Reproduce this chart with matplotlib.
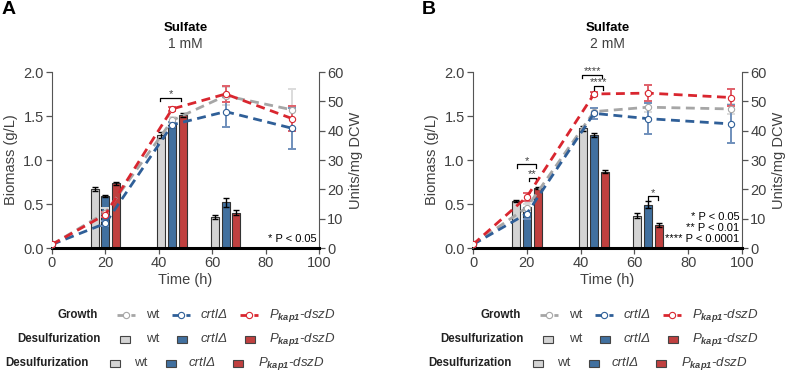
import numpy as np
import matplotlib.pyplot as plt
from matplotlib.lines import Line2D
from matplotlib.patches import Rectangle

plt.rcParams['font.family'] = ['Liberation Sans', 'DejaVu Sans']
plt.rcParams['mathtext.fontset'] = 'custom'
plt.rcParams['mathtext.it'] = 'Liberation Sans:italic'
plt.rcParams['mathtext.rm'] = 'Liberation Sans'
plt.rcParams['mathtext.bf'] = 'Liberation Sans:bold:italic'

# ---- data ----
strains = ['wt', 'crtIΔ', r'$P_{\mathbf{kap1}}$-$dszD$']
bar_times = [20, 45, 65]

# panel A, 1 mM sulfate
time_a = [0, 20, 45, 65, 90]
growth_a_wt = [0.04, 0.40, 1.45, 1.73, 1.57]
growth_a_wt_err = [0.01, 0.05, 0.04, 0.10, 0.24]
growth_a_crt = [0.04, 0.28, 1.40, 1.55, 1.36]
growth_a_crt_err = [0.01, 0.03, 0.03, 0.17, 0.23]
growth_a_kap = [0.04, 0.38, 1.58, 1.75, 1.47]
growth_a_kap_err = [0.01, 0.03, 0.02, 0.09, 0.14]
desulf_a_wt = [20.2, 38.5, 10.6]
desulf_a_wt_err = [0.7, 1.0, 0.8]
desulf_a_crt = [17.8, 42.2, 15.6]
desulf_a_crt_err = [0.3, 0.8, 1.5]
desulf_a_kap = [22.0, 45.3, 12.0]
desulf_a_kap_err = [0.5, 0.6, 0.9]

# panel B, 2 mM sulfate
time_b = [0, 20, 45, 65, 96]
growth_b_wt = [0.04, 0.46, 1.55, 1.60, 1.58]
growth_b_wt_err = [0.01, 0.04, 0.04, 0.05, 0.06]
growth_b_crt = [0.04, 0.39, 1.53, 1.47, 1.41]
growth_b_crt_err = [0.01, 0.06, 0.06, 0.18, 0.22]
growth_b_kap = [0.04, 0.58, 1.75, 1.76, 1.71]
growth_b_kap_err = [0.01, 0.05, 0.02, 0.09, 0.10]
desulf_b_wt = [16.1, 40.8, 11.0]
desulf_b_wt_err = [0.3, 0.8, 0.8]
desulf_b_crt = [14.0, 38.4, 14.8]
desulf_b_crt_err = [1.5, 0.7, 1.2]
desulf_b_kap = [20.4, 26.0, 7.8]
desulf_b_kap_err = [0.3, 0.5, 0.8]

# significance brackets: (x0, x1, y, label) in Units/mg DCW
sig_a = [(40.5, 48.5, 51.3, '*')]
sig_b = [(16.3, 23.5, 28.5, '*'), (20.8, 23.5, 24.0, '**'),
         (40.6, 48.0, 59.0, '****'), (45.1, 48.5, 55.2, '****'),
         (65.2, 68.9, 17.6, '*')]

bar_colors = ['#d4d4d4', '#41709f', '#c0403f']
line_colors = ['#a6a6a6', '#2f5f98', '#d9262f']
err_colors = ['#dcdcdc', '#6f8fbb', '#e0606a']
txt = '#404040'

W, H = 789, 373
fig = plt.figure(figsize=(W / 100, H / 100), dpi=100)


def fx(px):
    return px / W


def fy(py):
    return 1 - py / H


def panel(x0, x1, title2, letter, tline, growth, gerr, desulf, derr, sig, ptext):
    axb = fig.add_axes([fx(x0), fy(248), fx(x1 - x0), fy(72) - fy(248)])
    axl = axb.twinx()
    axb.yaxis.tick_right()
    axb.yaxis.set_label_position('right')
    axl.yaxis.tick_left()
    axl.yaxis.set_label_position('left')

    # bars on Units/mg DCW scale
    offs = [-4, 0, 4]
    for i in range(3):
        xs = [t + offs[i] for t in bar_times]
        axb.bar(xs, desulf[i], width=3.0, color=bar_colors[i], edgecolor='#333333',
                linewidth=0.8, zorder=2)
        axb.errorbar(xs, desulf[i], yerr=derr[i], fmt='none', ecolor='black',
                     elinewidth=1, capsize=2.5, capthick=1, zorder=3)
    axb.set_ylim(0, 60)
    axb.set_yticks(range(0, 61, 10))
    axb.set_xlim(0, 100)
    axb.set_xticks(range(0, 101, 20))
    axb.set_ylabel('Units/mg DCW', fontsize=10.5, color=txt, labelpad=4)
    axb.set_xlabel('Time (h)', fontsize=10.5, color=txt, labelpad=2)

    for (a, b, y, lab) in sig:
        axb.plot([a, a, b, b], [y - 1.2, y, y, y - 1.2], color='black', lw=0.9,
                 clip_on=False, zorder=4)
        axb.text((a + b) / 2, y - 0.5, lab, ha='center', va='bottom', fontsize=8,
                 color=txt, clip_on=False)

    # growth curves on Biomass scale
    for i in range(3):
        axl.errorbar(tline, growth[i], yerr=gerr[i], fmt='none', ecolor=err_colors[i],
                     elinewidth=1.4, capsize=3, capthick=1.4, zorder=2)
    for i in range(3):
        axl.plot(tline, growth[i], color=line_colors[i], lw=2, dashes=(3.2, 2.0),
                 marker='o', ms=4.5, mfc='white', mec=line_colors[i], mew=0.8, zorder=3)
    axl.set_ylim(0, 2.0)
    axl.set_yticks([0, 0.5, 1.0, 1.5, 2.0])
    axl.set_yticklabels(['0.0', '0.5', '1.0', '1.5', '2.0'])
    axl.set_ylabel('Biomass (g/L)', fontsize=10.5, color=txt, labelpad=4)

    for ax in (axb, axl):
        ax.spines['top'].set_visible(False)
        ax.tick_params(labelsize=10.5, labelcolor=txt, color='#555555', length=4,
                       width=0.9, pad=2)
    axl.spines['bottom'].set_visible(False)
    axl.spines['right'].set_visible(False)
    axb.spines['left'].set_visible(False)
    axl.spines['left'].set_color('#555555')
    axb.spines['right'].set_color('#555555')
    axb.spines['bottom'].set_linewidth(2.2)
    axb.spines['bottom'].set_color('black')

    # p-value notes
    for k, s in enumerate(ptext):
        axb.text(99, 1.5 + (len(ptext) - 1 - k) * 3.6, s, ha='right', va='bottom',
                 fontsize=8, color='black')

    xc = (x0 + x1) / 2
    fig.text(fx(xc), fy(28), 'Sulfate', ha='center', va='center', fontsize=9.5,
             fontweight='bold')
    fig.text(fx(xc), fy(44), title2, ha='center', va='center', fontsize=10, color=txt)
    fig.text(fx(x0 - 50 if letter == 'A' else x0 - 51), fy(10), letter, ha='left',
             va='center', fontsize=14, fontweight='bold')


def legend(dx):
    # row 1: growth
    y = 315
    fig.text(fx(98 + dx), fy(y), 'Growth', ha='right', va='center', fontsize=8.3,
             fontweight='bold', color='#222222')
    glyph = [(117, 135), (172, 190), (240, 258)]
    tx = [146, 201, 269]
    for i in range(3):
        a, b = glyph[i]
        fig.add_artist(Line2D([fx(a + dx), fx((a + b) / 2 + dx), fx(b + dx)],
                              [fy(y)] * 3, transform=fig.transFigure,
                              color=line_colors[i], lw=2, dashes=(2.5, 2.5),
                              marker='o', markevery=[1], ms=4.5, mfc='white',
                              mec=line_colors[i], mew=0.8))
        fig.text(fx(tx[i] + dx), fy(y), strains[i], ha='left', va='center',
                 fontsize=9.5, color=txt, fontstyle='normal' if i == 0 else 'italic')
    # rows 2 and 3: desulfurization
    rows = [(339, 101, [125, 182, 250], [146, 201, 269]),
            (363, 89, [114.5, 170.5, 238], [134, 189, 258])]
    for (y, rx, sq, tx) in rows:
        fig.text(fx(rx + dx), fy(y), 'Desulfurization', ha='right', va='center',
                 fontsize=8.3, fontweight='bold', color='#222222')
        for i in range(3):
            fig.add_artist(Rectangle((fx(sq[i] - 5 + dx), fy(y + 3.5)), fx(10), 7 / H,
                                     transform=fig.transFigure, facecolor=bar_colors[i],
                                     edgecolor='#444444', linewidth=0.8))
            fig.text(fx(tx[i] + dx), fy(y), strains[i], ha='left', va='center',
                     fontsize=9.5, color=txt, fontstyle='normal' if i == 0 else 'italic')


panel(52, 319, '1 mM', 'A', time_a,
      [growth_a_wt, growth_a_crt, growth_a_kap],
      [growth_a_wt_err, growth_a_crt_err, growth_a_kap_err],
      [desulf_a_wt, desulf_a_crt, desulf_a_kap],
      [desulf_a_wt_err, desulf_a_crt_err, desulf_a_kap_err],
      sig_a, ['* P < 0.05'])
panel(473, 742, '2 mM', 'B', time_b,
      [growth_b_wt, growth_b_crt, growth_b_kap],
      [growth_b_wt_err, growth_b_crt_err, growth_b_kap_err],
      [desulf_b_wt, desulf_b_crt, desulf_b_kap],
      [desulf_b_wt_err, desulf_b_crt_err, desulf_b_kap_err],
      sig_b, ['* P < 0.05', '** P < 0.01', '**** P < 0.0001'])
legend(0)
legend(423)

fig.savefig('out.png', dpi=100)
